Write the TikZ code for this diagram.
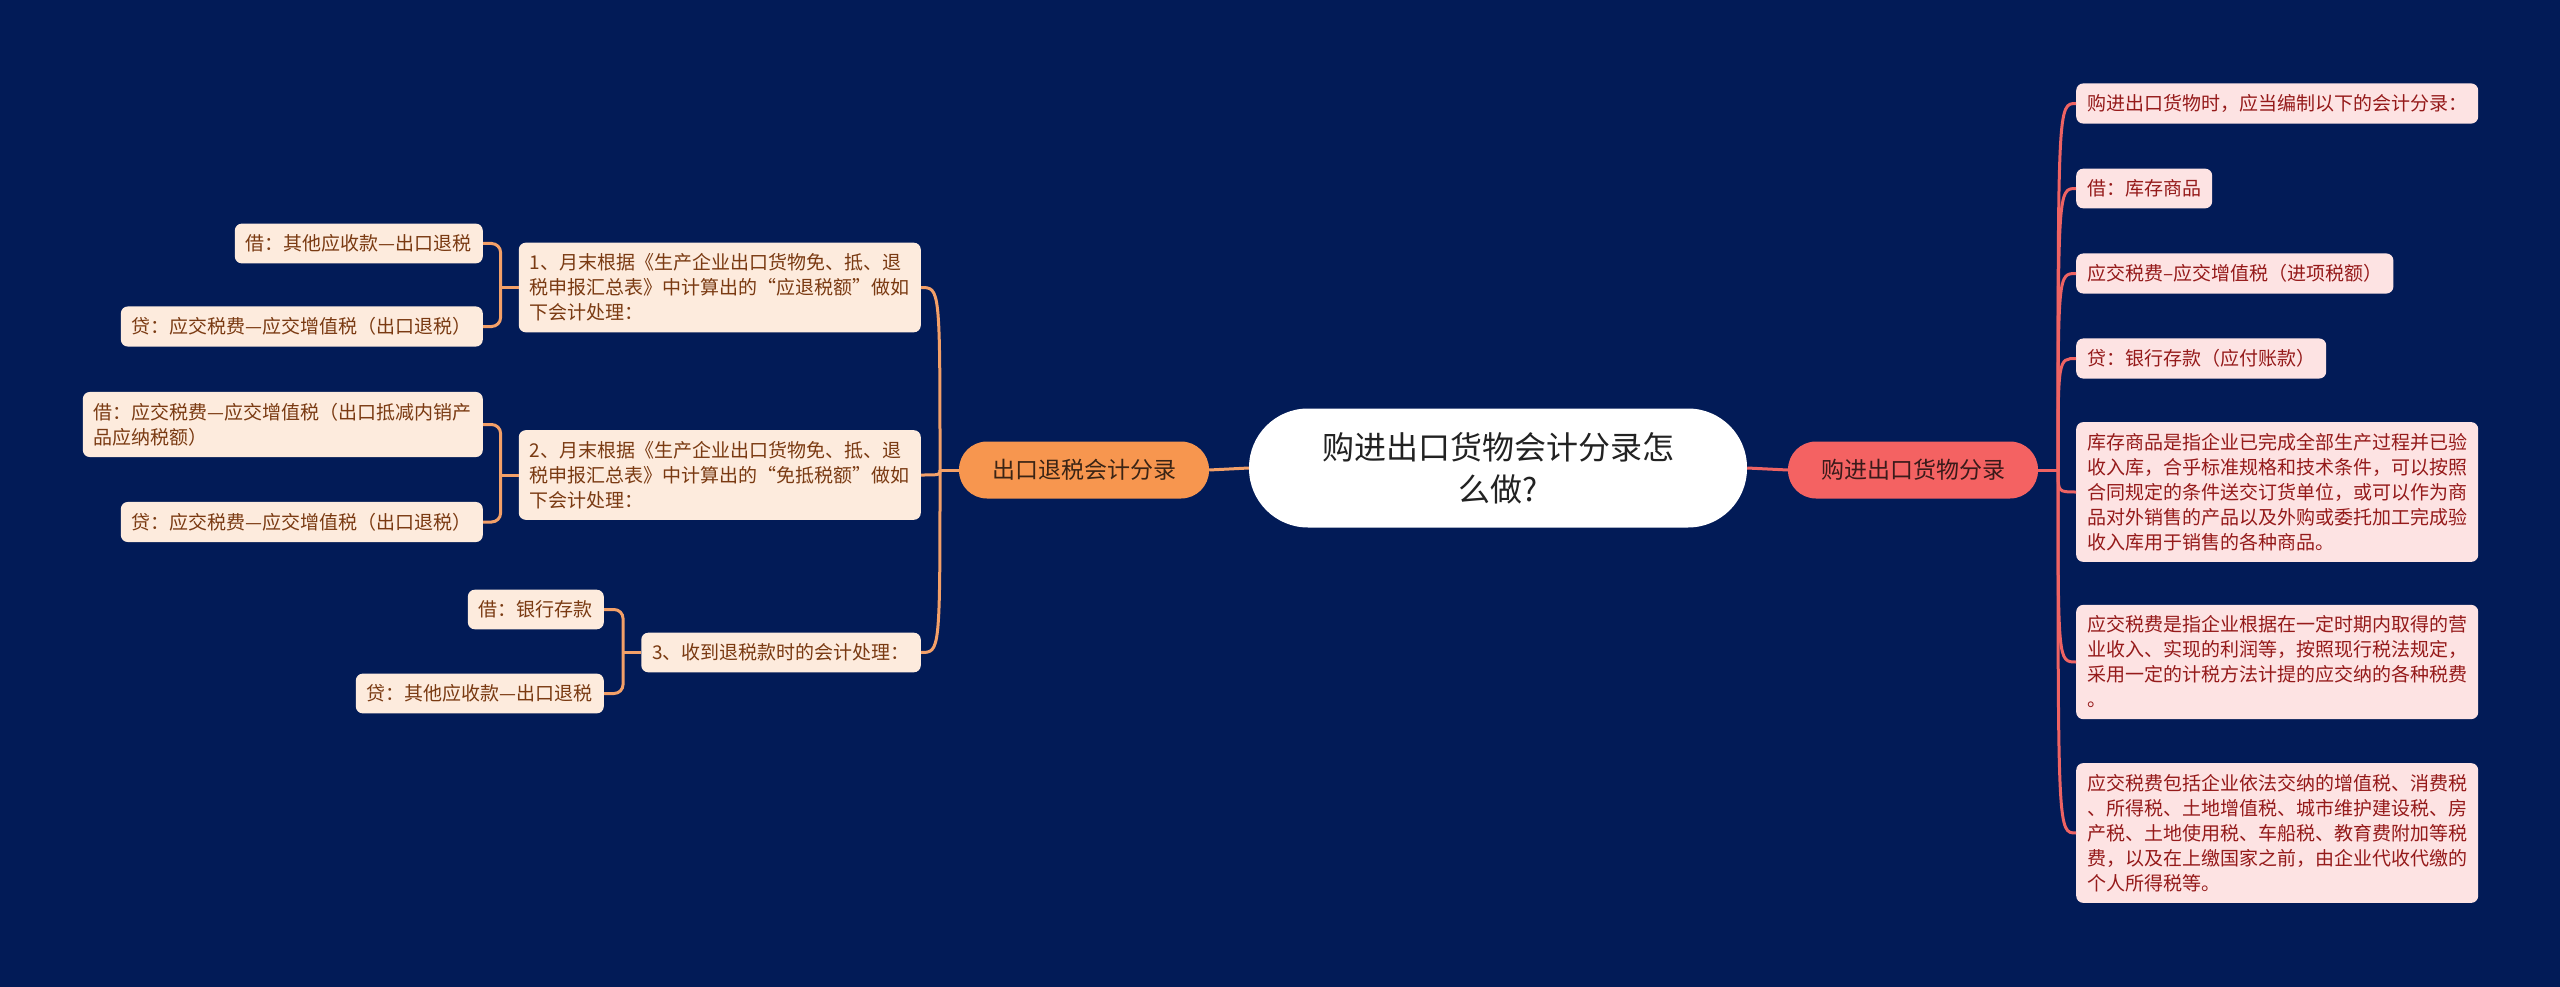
\documentclass[tikz,border=0pt]{standalone}
\usepackage{fontspec}
\setmainfont{Noto Sans CJK SC}
\usetikzlibrary{calc}
\definecolor{bgblue}{HTML}{021B57}
\definecolor{rootink}{HTML}{222222}
\definecolor{topicr}{HTML}{F46262}
\definecolor{topicl}{HTML}{F7964F}
\definecolor{topicrink}{HTML}{3A1A1A}
\definecolor{topiclink}{HTML}{3A2415}
\definecolor{leafrfill}{HTML}{FDE3E3}
\definecolor{leafrink}{HTML}{951A1A}
\definecolor{leaflfill}{HTML}{FDEBDD}
\definecolor{leaflink}{HTML}{7A3A12}
\definecolor{linkred}{HTML}{EE6363}
\definecolor{linkorange}{HTML}{F3A068}
\begin{document}
\begin{tikzpicture}[x=1pt,y=-1pt]
        \tikzstyle{root}=[fill=white,text=rootink,rounded corners=59pt,minimum width=498pt,minimum height=119pt,align=center,font=\fontsize{32}{42}\selectfont]
        \tikzstyle{topic}=[rounded corners=28pt,minimum width=250pt,minimum height=57pt,font=\fontsize{23}{28}\selectfont]
        \tikzstyle{leafr}=[fill=leafrfill,text=leafrink,rounded corners=7pt,inner xsep=11pt,inner ysep=11pt,align=left,anchor=west,font=\fontsize{19}{25}\selectfont]
        \tikzstyle{leafl}=[fill=leaflfill,text=leaflink,rounded corners=7pt,inner xsep=11pt,inner ysep=11pt,align=left,anchor=east,font=\fontsize{19}{25}\selectfont]
        \tikzstyle{linkr}=[draw=linkred,line width=3pt]
        \tikzstyle{linkl}=[draw=linkorange,line width=3pt]
        \useasboundingbox (0,0) rectangle (2560,987);
        \fill[bgblue] (0,0) rectangle (2560,987);
       \begin{scope}
         \node [root] (q) at (1498,468) {购进出口货物会计分录怎\\么做?};
         \node [topic,fill=topicr,text=topicrink] (buy) at (1913,470) {购进出口货物分录};
         \node [topic,fill=topicl,text=topiclink] (refund) at (1084,470) {出口退税会计分录};
         \path[linkr] (q.east) -- (buy.west);
         \path[linkl] (q.west) -- (refund.east);
        \end{scope}
       \begin{scope}
         \node [leafr] (b1) at (2076,103.5) {购进出口货物时，应当编制以下的会计分录：};
         \node [leafr] (b2) at (2076,188.5) {借：库存商品};
         \node [leafr] (b3) at (2076,273.5) {应交税费–应交增值税（进项税额）};
         \node [leafr] (b4) at (2076,358.5) {贷：银行存款（应付账款）};
         \node [leafr] (b5) at (2076,492) {库存商品是指企业已完成全部生产过程并已验\\收入库，合乎标准规格和技术条件，可以按照\\合同规定的条件送交订货单位，或可以作为商\\品对外销售的产品以及外购或委托加工完成验\\收入库用于销售的各种商品。};
         \node [leafr] (b6) at (2076,662) {应交税费是指企业根据在一定时期内取得的营\\业收入、实现的利润等，按照现行税法规定，\\采用一定的计税方法计提的应交纳的各种税费\\。};
         \node [leafr] (b7) at (2076,833) {应交税费包括企业依法交纳的增值税、消费税\\、所得税、土地增值税、城市维护建设税、房\\产税、土地使用税、车船税、教育费附加等税\\费，以及在上缴国家之前，由企业代收代缴的\\个人所得税等。};
         \coordinate (rtrunk) at (2058,470);
         \path[linkr] (buy.east) -- (rtrunk);
         \foreach \n in {b1,b2,b3,b4,b5,b6,b7}
           \path[linkr] (rtrunk) .. controls (rtrunk |- \n.west) .. (\n.west);
        \end{scope}
       \begin{scope}
         \node [leafl] (s1) at (921,287.5) {1、月末根据《生产企业出口货物免、抵、退\\税申报汇总表》中计算出的“应退税额”做如\\下会计处理：};
         \node [leafl] (s2) at (921,475) {2、月末根据《生产企业出口货物免、抵、退\\税申报汇总表》中计算出的“免抵税额”做如\\下会计处理：};
         \node [leafl] (s3) at (921,652.5) {3、收到退税款时的会计处理：};
         \coordinate (ltrunk) at (940,470);
         \path[linkl] (refund.west) -- (ltrunk);
         \foreach \n in {s1,s2,s3}
           \path[linkl] (ltrunk) .. controls (ltrunk |- \n.east) .. (\n.east);
         \node [leafl] (s1a) at (483,243.5) {借：其他应收款—出口退税};
         \node [leafl] (s1b) at (483,326.5) {贷：应交税费—应交增值税（出口退税）};
         \node [leafl] (s2a) at (483,424.5) {借：应交税费—应交增值税（出口抵减内销产\\品应纳税额）};
         \node [leafl] (s2b) at (483,522) {贷：应交税费—应交增值税（出口退税）};
         \node [leafl] (s3a) at (604,609.5) {借：银行存款};
         \node [leafl] (s3b) at (604,693.5) {贷：其他应收款—出口退税};
         \foreach \p/\a/\b in {s1/s1a/s1b,s2/s2a/s2b,s3/s3a/s3b} {
           \path[linkl] (\p.west) -- ++(-18,0);
           \path[linkl,rounded corners=9pt] (\a.east) -| ($(\p.west)+(-18,0)$) |- (\b.east);
         }
        \end{scope}
      \end{tikzpicture}
\end{document}
